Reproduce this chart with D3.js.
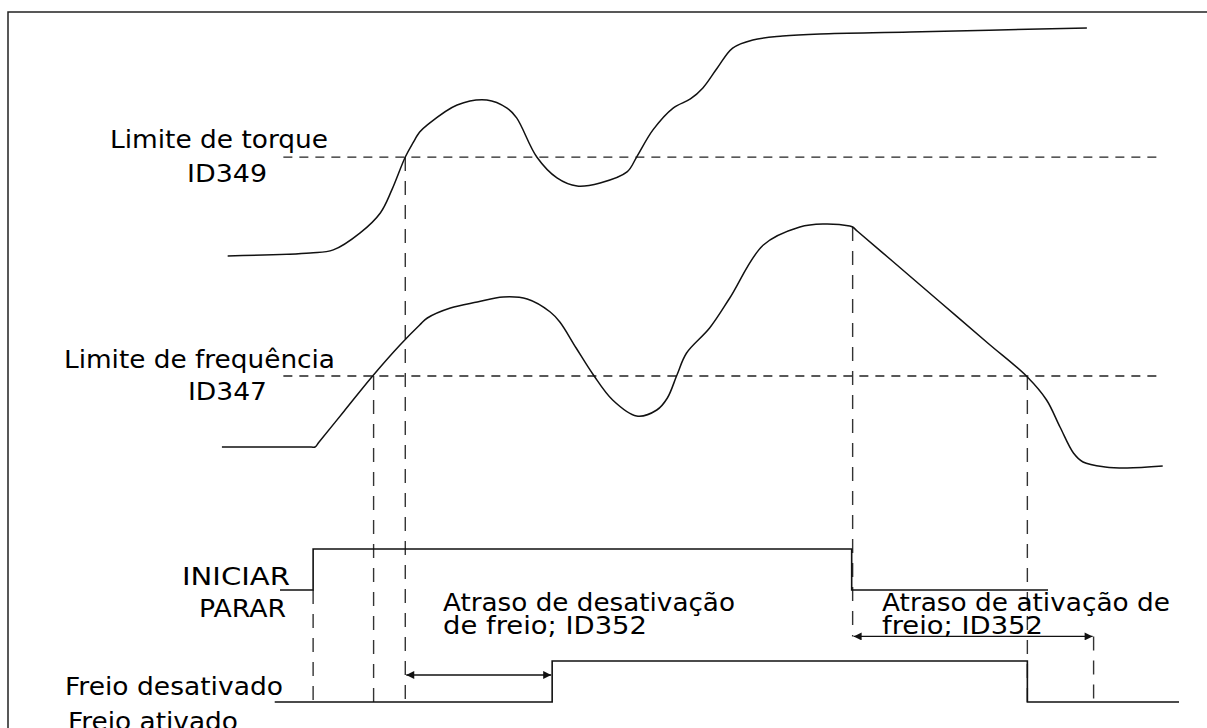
<!DOCTYPE html>
<html>
<head>
<meta charset="utf-8">
<script src="https://cdn.jsdelivr.net/npm/d3@7/dist/d3.min.js"></script>
<style>
	body { margin: 0; background: #fff; }
	svg { display: block; }
	text { font-family: "DejaVu Sans", Verdana, sans-serif; font-size: 25px; fill: #000; }
</style>
</head>
<body>
<div id="chart"></div>
<script>
// ---- data (time in arbitrary units 0..100, signals in % of their band) ----
const torqueTime   = [0.8, 9.4, 11.8, 14.6, 16.7, 17.9, 19.3, 20.1, 20.8, 21.6, 24.7, 27.8, 29.9, 30.9, 33.0, 35.1, 37.2, 39.6, 42.4, 43.4, 45.1, 47.2, 49.0, 50.3, 51.8, 53.4, 55.5, 58.6, 62.5, 71.9, 90.3];
const torqueValues = [1.7, 2.9, 4.2, 11.3, 19.6, 29.2, 42.9, 48.8, 53.3, 56.3, 64.6, 66.7, 63.3, 59.2, 42.9, 34.2, 30.8, 32.1, 36.7, 42.9, 54.2, 63.3, 67.1, 71.7, 80.0, 88.3, 91.7, 93.3, 94.2, 95.0, 96.7];

const freqTime   = [0.2, 9.5, 9.9, 10.3, 12.9, 15.9, 18.75, 20.8, 21.6, 24.0, 26.8, 29.5, 32.0, 34.4, 35.4, 37.1, 38.9, 40.9, 43.4, 45.5, 46.6, 47.6, 48.6, 51.0, 53.1, 56.6, 60.4, 62.8, 65.6, 65.9, 66.4, 70.0, 75.0, 80.0, 84.1, 86.1, 87.5, 88.9, 89.9, 92.2, 94.5, 98.2];
const freqValues = [9.2, 9.2, 9.2, 11.1, 23.4, 37.6, 50.0, 58.0, 60.8, 64.8, 67.2, 69.2, 68.4, 63.2, 59.2, 48.8, 38.0, 28.0, 21.6, 24.0, 28.8, 38.0, 46.8, 56.8, 68.8, 90.0, 97.2, 98.4, 97.6, 97.2, 95.5, 83.7, 67.2, 50.7, 37.2, 28.0, 17.2, 6.8, 3.2, 1.2, 0.8, 1.6];

const torqueLimit = 42.9;
const freqLimit = 37.6;
const limitSpan = [6.6, 97.9];

// digital signals: value holds from this time until the next one
const startStopTime  = [6.25, 9.7, 65.8, 86.25];
const startStopState = [0, 1, 0, 0];
const brakeTime  = [5.7, 34.6, 84.1, 99.9];
const brakeState = [0, 1, 0, 0];

// brake delays (arrow from start to end, level in brake units)
const delayStart = [19.3, 65.9];
const delayEnd   = [34.6, 91.0];
const delayLevel = [0.66, 1.6];

// vertical event markers
const markerTime = [9.7, 16.0, 19.3, 65.9, 84.1, 91.0];
const markerFrom = ["startLow", "freqLimit", "torqueLimit", "freqPeak", "freqLimit", "delay2"];
const markerTo   = ["brakeLow", "brakeLow", "brakeLow", "delay2", "brakeEnd", "brakeEnd"];

// text
const sideLabels  = ["Limite de torque", "ID349", "Limite de frequência", "ID347", "INICIAR", "PARAR", "Freio desativado", "Freio ativado"];
const delayLabels = ["Atraso de desativação", "de freio; ID352", "Atraso de ativação de", "freio; ID352"];

// ---- layout ----
const width = 1207, height = 728;
const sideLayout = [
	{x: 110, y: 148, w: 218}, {x: 187, y: 182, w: 80},
	{x: 64, y: 368, w: 271}, {x: 188, y: 400, w: 79},
	{x: 182, y: 585, w: 108}, {x: 199, y: 617, w: 87},
	{x: 65, y: 695, w: 218}, {x: 68, y: 730, w: 170}
];
const delayLayout = [
	{x: 443, y: 611, w: 292}, {x: 443, y: 634, w: 204},
	{x: 882, y: 611, w: 288}, {x: 882, y: 634, w: 161}
];

let x = d3.scaleLinear().domain([0, 100]).range([220, 1180]);
let yTorque = d3.scaleLinear().domain([0, 100]).range([260, 20]);
let yFreq = d3.scaleLinear().domain([0, 100]).range([470, 220]);
let yStart = d3.scaleLinear().domain([0, 1]).range([590, 549]);
let yBrake = d3.scaleLinear().domain([0, 1]).range([702, 661]);

let svg = d3.select("#chart").append("svg")
	.attr("width", width)
	.attr("height", height);

svg.append("defs").append("marker")
	.attr("id", "arrow")
	.attr("viewBox", "0 0 10 10")
	.attr("refX", 10).attr("refY", 5)
	.attr("markerUnits", "userSpaceOnUse")
	.attr("markerWidth", 14).attr("markerHeight", 8)
	.attr("orient", "auto-start-reverse")
	.append("path")
	.attr("d", "M0,0L10,5L0,10Z")
	.attr("fill", "#111");

// frame (open at right and bottom, as in the cropped figure)
svg.append("path")
	.attr("d", "M8," + height + "V12H" + width)
	.attr("fill", "none")
	.attr("stroke", "#222")
	.attr("stroke-width", 1.5);

// limit lines
svg.selectAll(".limit")
	.data([yTorque(torqueLimit), yFreq(freqLimit)])
	.enter().append("line")
	.attr("class", "limit")
	.attr("x1", x(limitSpan[0])).attr("x2", x(limitSpan[1]))
	.attr("y1", d => d).attr("y2", d => d)
	.attr("stroke", "#222")
	.attr("stroke-width", 1.3)
	.attr("stroke-dasharray", "9,7");

// vertical markers
let levels = {
	startLow: yStart(0),
	freqLimit: yFreq(freqLimit),
	torqueLimit: yTorque(torqueLimit),
	freqPeak: yFreq(freqValues[freqTime.indexOf(65.9)]),
	delay2: yBrake(delayLevel[1]),
	brakeLow: yBrake(0),
	brakeEnd: yBrake(0) + 3
};
svg.selectAll(".marker")
	.data(markerTime)
	.enter().append("line")
	.attr("class", "marker")
	.attr("x1", d => x(d)).attr("x2", d => x(d))
	.attr("y1", (d, i) => levels[markerFrom[i]])
	.attr("y2", (d, i) => levels[markerTo[i]])
	.attr("stroke", "#333")
	.attr("stroke-width", 1.4)
	.attr("stroke-dasharray", "14,10");

// analog curves
let curve = d3.line()
	.curve(d3.curveCatmullRom.alpha(0.5))
	.x(d => x(d[0]));

svg.append("path")
	.datum(d3.zip(torqueTime, torqueValues))
	.attr("d", curve.y(d => yTorque(d[1])))
	.attr("fill", "none")
	.attr("stroke", "#111")
	.attr("stroke-width", 1.5);

svg.append("path")
	.datum(d3.zip(freqTime, freqValues))
	.attr("d", curve.y(d => yFreq(d[1])))
	.attr("fill", "none")
	.attr("stroke", "#111")
	.attr("stroke-width", 1.5);

// digital signals
let step = d3.line()
	.curve(d3.curveStepAfter)
	.x(d => x(d[0]));

svg.append("path")
	.datum(d3.zip(startStopTime, startStopState))
	.attr("d", step.y(d => yStart(d[1])))
	.attr("fill", "none")
	.attr("stroke", "#111")
	.attr("stroke-width", 1.6);

svg.append("path")
	.datum(d3.zip(brakeTime, brakeState))
	.attr("d", step.y(d => yBrake(d[1])))
	.attr("fill", "none")
	.attr("stroke", "#111")
	.attr("stroke-width", 1.6);

// delay arrows
svg.selectAll(".delay")
	.data(delayStart)
	.enter().append("line")
	.attr("class", "delay")
	.attr("x1", d => x(d) + 1)
	.attr("x2", (d, i) => x(delayEnd[i]) - 1)
	.attr("y1", (d, i) => yBrake(delayLevel[i]))
	.attr("y2", (d, i) => yBrake(delayLevel[i]))
	.attr("stroke", "#111")
	.attr("stroke-width", 1.4)
	.attr("marker-start", "url(#arrow)")
	.attr("marker-end", "url(#arrow)");

// labels
svg.selectAll(".side-label")
	.data(sideLabels)
	.enter().append("text")
	.attr("class", "side-label")
	.attr("x", (d, i) => sideLayout[i].x)
	.attr("y", (d, i) => sideLayout[i].y)
	.attr("textLength", (d, i) => sideLayout[i].w)
	.attr("lengthAdjust", "spacingAndGlyphs")
	.text(d => d);

svg.selectAll(".delay-label")
	.data(delayLabels)
	.enter().append("text")
	.attr("class", "delay-label")
	.attr("x", (d, i) => delayLayout[i].x)
	.attr("y", (d, i) => delayLayout[i].y)
	.attr("textLength", (d, i) => delayLayout[i].w)
	.attr("lengthAdjust", "spacingAndGlyphs")
	.text(d => d);
</script>
</body>
</html>
